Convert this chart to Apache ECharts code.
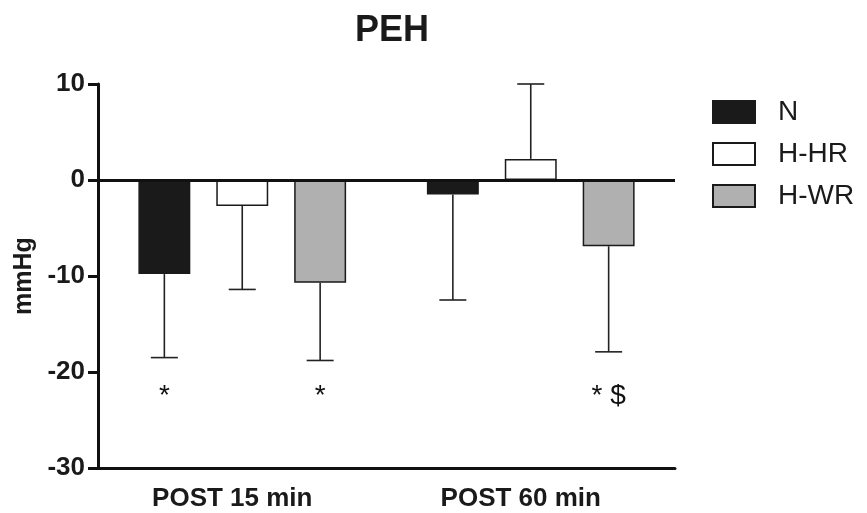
<!DOCTYPE html>
<html>
<head>
<meta charset="utf-8">
<script src="https://cdn.jsdelivr.net/npm/echarts@6/dist/echarts.min.js"></script>
<style>html,body{margin:0;padding:0;background:#fff}#c{width:867px;height:513px}</style>
</head>
<body>
<div id="c"></div>
<script>
const categories = ['POST 15 min', 'POST 60 min'];
const seriesNames = ['N', 'H-HR', 'H-WR'];
const meanN = [-9.8, -1.5];
const meanHHR = [-2.7, 2.2];
const meanHWR = [-10.7, -6.9];
const sdN = [8.7, 11.0];
const sdHHR = [8.7, 7.8];
const sdHWR = [8.1, 11.0];
const yMin = -30, yMax = 10, yInterval = 10;
const annotCat = [0, 0, 1];
const annotSeries = [0, 2, 2];
const annotY = [-22.5, -22.5, -22.5];
const annotText = ['*', '*', '* $'];

const FONT = 'Liberation Sans, Arial, sans-serif';
const INK = '#1a1a1a';
const fills = ['#1a1a1a', '#ffffff', '#b0b0b0'];
const means = [meanN, meanHHR, meanHWR];
const sds = [sdN, sdHHR, sdHWR];
const BAR_RATIO = 0.18;

function offsetFor(sIdx, band) {
  const w = band * BAR_RATIO;
  return (sIdx - 1) * 1.5 * w;
}

function errRender(sIdx) {
  return function (params, api) {
    const c = api.value(0), m = api.value(1), sd = api.value(2);
    const band = api.size([1, 0])[0];
    const w = band * BAR_RATIO;
    const p0 = api.coord([c, m]);
    const p1 = api.coord([c, m + (m >= 0 ? 1 : -1) * sd]);
    const x = p0[0] + offsetFor(sIdx, band);
    const cap = w * 0.52;
    const st = { stroke: '#222', lineWidth: 1.6 };
    return {
      type: 'group',
      children: [
        { type: 'line', shape: { x1: x, y1: p0[1], x2: x, y2: p1[1] }, style: st },
        { type: 'line', shape: { x1: x - cap / 2, y1: p1[1], x2: x + cap / 2, y2: p1[1] }, style: st }
      ]
    };
  };
}

const series = [];
seriesNames.forEach(function (name, i) {
  const s = {
    name: name,
    type: 'bar',
    data: means[i],
    barWidth: (BAR_RATIO * 100) + '%',
    barGap: '50%',
    itemStyle: { color: fills[i], borderColor: INK, borderWidth: 1.5 },
    z: 2
  };
  if (i === 0) {
    s.markLine = {
      silent: true,
      symbol: 'none',
      label: { show: false },
      lineStyle: { color: '#111', width: 3, type: 'solid' },
      data: [{ yAxis: 0 }],
      z: 5
    };
  }
  series.push(s);
});
seriesNames.forEach(function (name, i) {
  series.push({
    type: 'custom',
    renderItem: errRender(i),
    data: categories.map(function (c, k) { return [k, means[i][k], sds[i][k]]; }),
    encode: { x: 0, y: 1 },
    z: 3,
    silent: true
  });
});
series.push({
  type: 'custom',
  silent: true,
  z: 4,
  data: annotCat.map(function (c, k) { return [c, annotY[k], annotSeries[k]]; }),
  encode: { x: 0, y: 1 },
  renderItem: function (params, api) {
    const c = api.value(0), y = api.value(1), s = api.value(2);
    const band = api.size([1, 0])[0];
    const p = api.coord([c, y]);
    const txt = annotText[params.dataIndex];
    return {
      type: 'text',
      x: p[0] + offsetFor(s, band),
      y: p[1],
      style: { text: txt, fontSize: 28, fontFamily: FONT, fill: '#111', align: 'center', verticalAlign: 'middle' }
    };
  }
});

const chart = echarts.init(document.getElementById('c'), null, { renderer: 'canvas' });
chart.setOption({
  animation: false,
  backgroundColor: '#fff',
  title: {
    text: 'PEH',
    left: 387,
    textAlign: 'center',
    top: 8,
    textStyle: { fontFamily: FONT, fontWeight: 'bold', fontSize: 36, color: INK }
  },
  legend: {
    orient: 'vertical',
    left: 707,
    top: 93,
    itemWidth: 42,
    itemHeight: 22,
    itemGap: 14,
    icon: 'rect',
    data: seriesNames,
    textStyle: { fontFamily: FONT, fontSize: 28, color: INK, padding: [0, 0, 0, 18] }
  },
  grid: { left: 98, right: 192, top: 84, bottom: 45, containLabel: false },
  xAxis: {
    type: 'category',
    data: categories,
    axisLine: { onZero: false, lineStyle: { color: '#111', width: 3 } },
    axisTick: { show: false },
    axisLabel: { fontFamily: FONT, fontWeight: 'bold', fontSize: 26, color: INK, margin: 18, padding: [0, 20, 0, 0] }
  },
  yAxis: {
    type: 'value',
    min: yMin,
    max: yMax,
    interval: yInterval,
    name: 'mmHg',
    nameLocation: 'middle',
    nameGap: 55,
    nameRotate: 90,
    nameTextStyle: { fontFamily: FONT, fontWeight: 'bold', fontSize: 25, color: INK },
    splitLine: { show: false },
    axisLine: { show: true, lineStyle: { color: '#111', width: 3 } },
    axisTick: { show: true, length: 10, lineStyle: { color: '#111', width: 3 } },
    axisLabel: { fontFamily: FONT, fontWeight: 'bold', fontSize: 26, color: INK, margin: 13 }
  },
  series: series
});
</script>
</body>
</html>
